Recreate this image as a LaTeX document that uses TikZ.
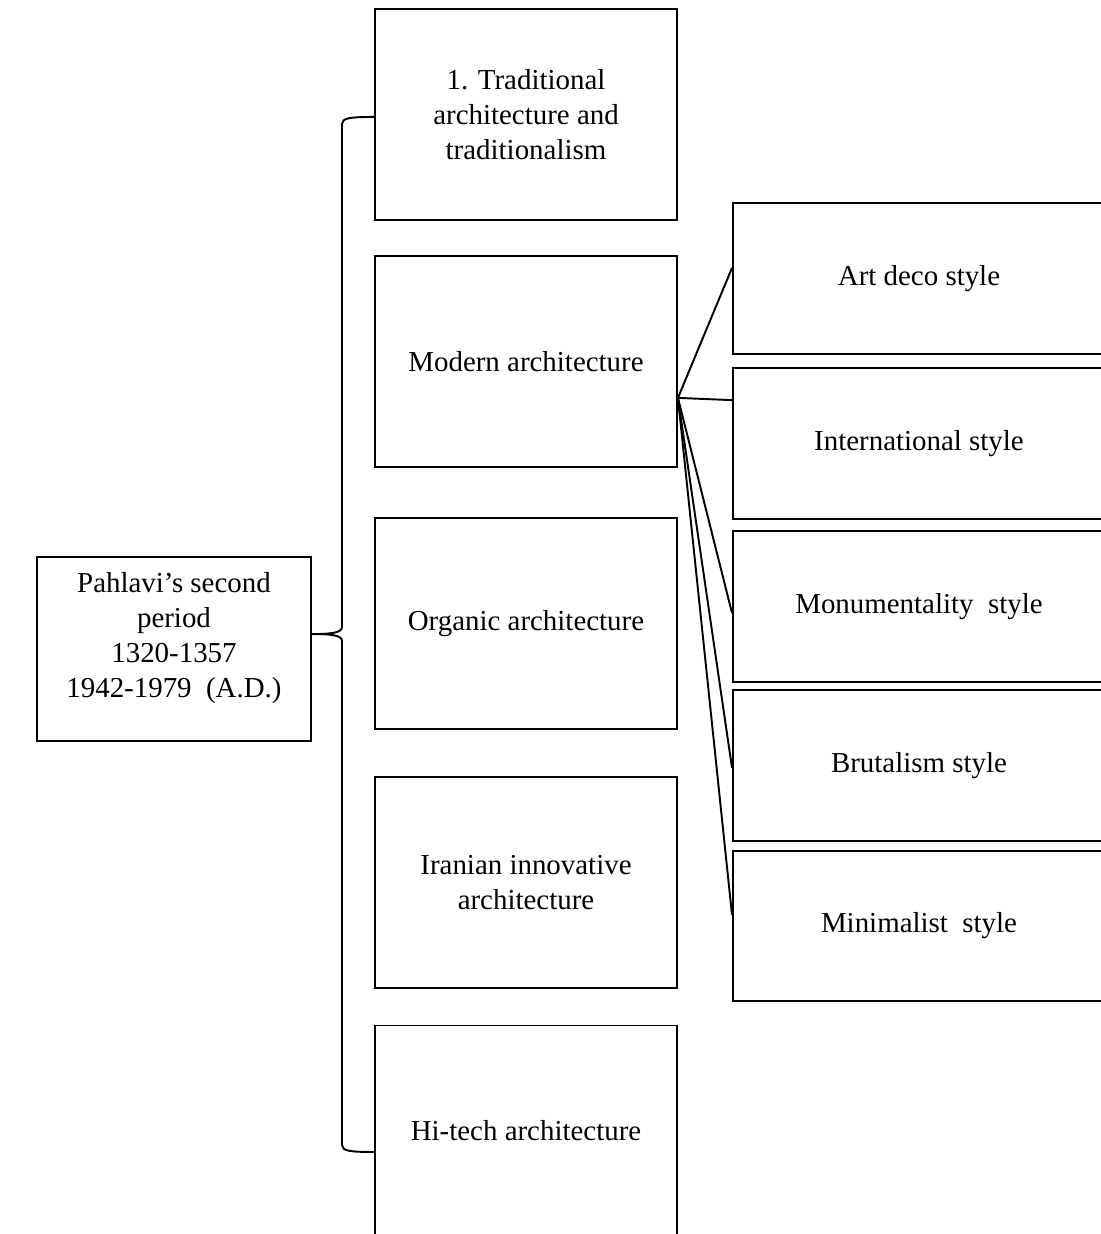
\documentclass[tikz,border=0pt]{standalone}
\usepackage{fontspec}
\setmainfont{Liberation Serif}
\begin{document}
\begin{tikzpicture}[x=0.415pt, y=-0.415pt,
    every node/.style={font=\fontsize{12}{14.5}\selectfont, align=center, inner sep=0pt},
    period/.style={draw, line width=0.8pt, minimum width=113.7pt, minimum height=76.4pt},
    branch/.style={draw, line width=0.8pt, minimum width=125.3pt, minimum height=87.6pt},
    substyle/.style={draw, line width=0.8pt, minimum width=154.4pt, minimum height=62.3pt},
    link/.style={line width=0.8pt}]

    \useasboundingbox (0,0) rectangle (1101,1234);

    \node (pahlavi) [period] at (174, 649) {};
    \node (pahlavitext) at (174, 638) {Pahlavi’s second\\period\\1320-1357\\1942-1979\ \ (A.D.)};

    \node (trad) [branch] at (526, 114.5) {1. Traditional\\architecture and\\traditionalism};
    \node (modern) [branch] at (526, 361.5) {Modern architecture};
    \node (organic) [branch] at (526, 623.5) {Organic architecture};
    \node (iranian) [branch] at (526, 882.5) {Iranian innovative\\architecture};
    \node (hitech) [branch] at (526, 1131) {Hi-tech architecture};

    \node (artdeco) [substyle] at (919, 278.5) {Art deco style};
    \node (intl) [substyle] at (919, 443.5) {International style};
    \node (monu) [substyle] at (919, 606.5) {Monumentality\ \ style};
    \node (brut) [substyle] at (919, 765.5) {Brutalism style};
    \node (mini) [substyle] at (919, 926) {Minimalist\ \ style};

    % brace
    \coordinate (bracetop) at ([yshift=-1pt]trad.west);
    \coordinate (bracetip) at ([yshift=6.2pt]pahlavi.east);
    \coordinate (bracebot) at ([yshift=-8.7pt]hitech.west);
    \draw [link] (bracetop) .. controls (350,117) and (342,118) .. (342,124)
        -- (342,627) .. controls (342,633) and (330,634) .. (bracetip)
        .. controls (330,634) and (342,635) .. (342,641)
        -- (342,1145) .. controls (342,1151) and (350,1152) .. (bracebot);

    % fan
    \coordinate (fan) at ([yshift=-15.1pt]modern.east);
    \draw [link] (fan) -- ([yshift=4.4pt]artdeco.west);
    \draw [link] (fan) -- ([yshift=18pt]intl.west);
    \draw [link] (fan) -- ([yshift=-2.7pt]monu.west);
    \draw [link] (fan) -- ([yshift=-1pt]brut.west);
    \draw [link] (fan) -- ([yshift=4.6pt]mini.west);
\end{tikzpicture}
\end{document}
